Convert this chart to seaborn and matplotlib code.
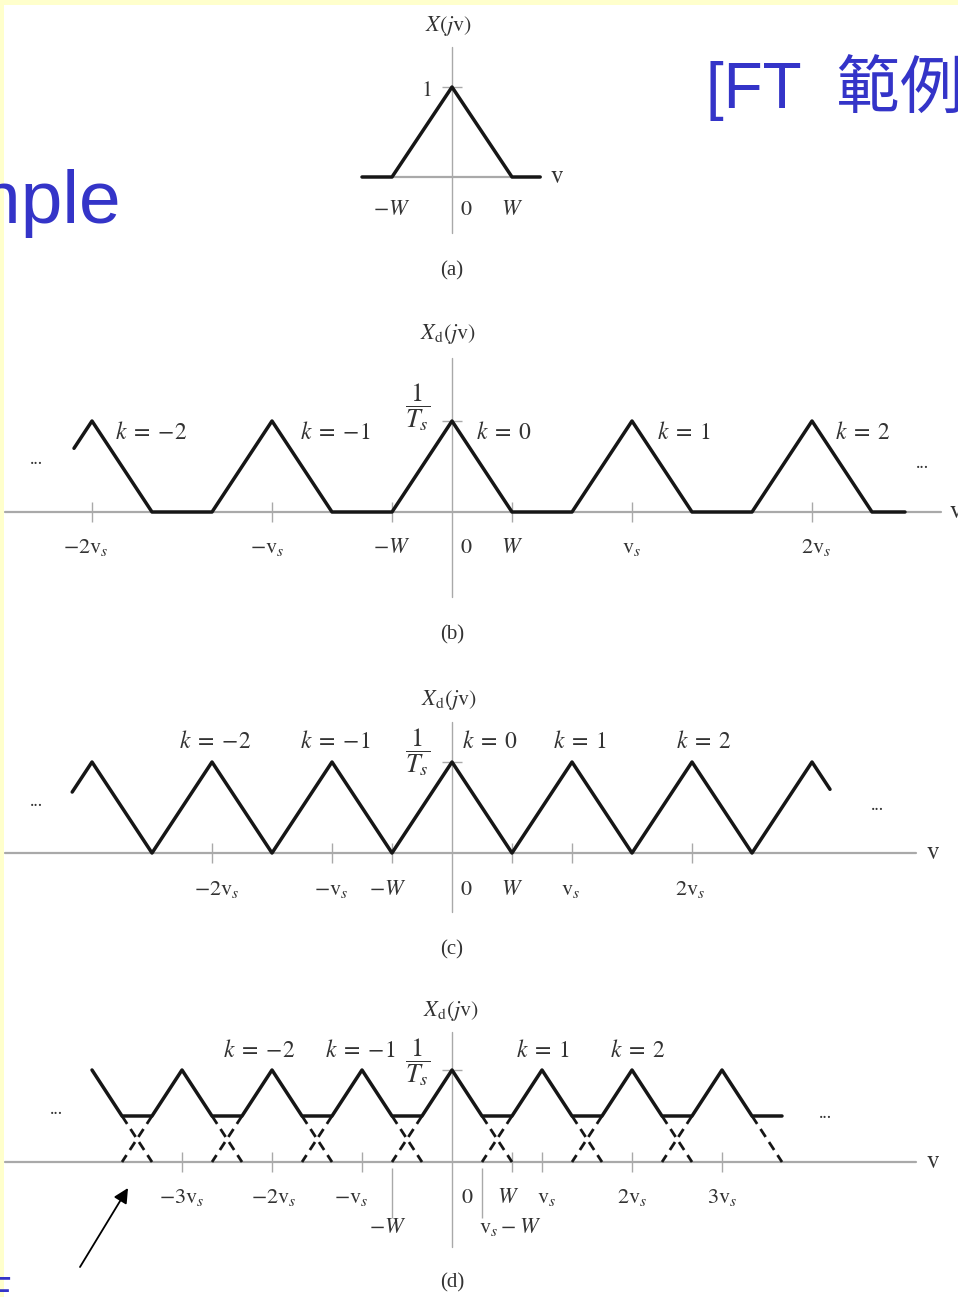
import numpy as np
import pandas as pd
import matplotlib
matplotlib.use("Agg")
import matplotlib.pyplot as plt
import seaborn as sns
from matplotlib.patches import Rectangle

sns.set_theme(style="white")
plt.rcParams["font.family"] = ["Liberation Serif", "DejaVu Serif"]
plt.rcParams["mathtext.fontset"] = "stix"

# ---------------------------------------------------------------------------
# Spectra: frequency in units of W, amplitude in units of the peak value
# ---------------------------------------------------------------------------
# (a) band-limited spectrum X(jv)
a_nu = [-1.5, -1.0, 0.0, 1.0, 1.47]
a_amp = [0, 0, 1, 0, 0]

# (b) sampled with vs = 3W  (replicas separated)
b_nu = [-6.3, -6, -5, -4, -3, -2, -1, 0, 1, 2, 3, 4, 5, 6, 7, 7.55]
b_amp = [0.7, 1, 0, 0, 1, 0, 0, 1, 0, 0, 1, 0, 0, 1, 0, 0]

# (c) sampled with vs = 2W  (replicas just touching)
c_nu = [-6.33, -6, -5, -4, -3, -2, -1, 0, 1, 2, 3, 4, 5, 6, 6.3]
c_amp = [0.67, 1, 0, 1, 0, 1, 0, 1, 0, 1, 0, 1, 0, 1, 0.7]

# (d) sampled with vs = 1.5W  (overlapping replicas sum to a flat 0.5)
d_nu = [-6, -5.5, -5, -4.5, -4, -3.5, -3, -2.5, -2, -1.5, -1, -0.5,
        0, 0.5, 1, 1.5, 2, 2.5, 3, 3.5, 4, 4.5, 5, 5.5]
d_amp = [1, .5, .5, 1, .5, .5, 1, .5, .5, 1, .5, .5,
         1, .5, .5, 1, .5, .5, 1, .5, .5, 1, .5, .5]

# (d) hidden tails of the individual replicas (dashed), one segment each
tail_from_nu = [-5.5, -5.0, -4.0, -3.5, -2.5, -2.0, -1.0, -0.5,
                0.5, 1.0, 2.0, 2.5, 3.5, 4.0, 5.0]
tail_to_nu = [-5.0, -5.5, -3.5, -4.0, -2.0, -2.5, -0.5, -1.0,
              1.0, 0.5, 2.5, 2.0, 4.0, 3.5, 5.5]
tail_from_amp = 0.5
tail_to_amp = 0.0

# Tick positions and their labels
a_ticks = [-1, 1]
a_tick_labels = [r"$-W$", r"$0$", r"$W$"]
a_label_nu = [-1.0, 0.23, 1.0]

b_ticks = [-6, -3, -1, 1, 3, 6]
b_tick_labels = [r"$-2\mathrm{v}_s$", r"$-\mathrm{v}_s$", r"$-W$", r"$0$",
                 r"$W$", r"$\mathrm{v}_s$", r"$2\mathrm{v}_s$"]
b_label_nu = [-6.1, -3.08, -1.0, 0.23, 1.0, 3.0, 6.07]

c_ticks = [-4, -2, -1, 1, 2, 4]
c_tick_labels = [r"$-2\mathrm{v}_s$", r"$-\mathrm{v}_s$", r"$-W$", r"$0$",
                 r"$W$", r"$\mathrm{v}_s$", r"$2\mathrm{v}_s$"]
c_label_nu = [-3.92, -2.02, -1.07, 0.23, 1.0, 1.98, 3.97]

d_ticks = [-4.5, -3, -1.5, 1, 1.5, 3, 4.5]
d_tick_labels = [r"$-3\mathrm{v}_s$", r"$-2\mathrm{v}_s$", r"$-\mathrm{v}_s$",
                 r"$0$", r"$W$", r"$\mathrm{v}_s$", r"$2\mathrm{v}_s$",
                 r"$3\mathrm{v}_s$"]
d_label_nu = [-4.5, -2.97, -1.68, 0.25, 0.93, 1.58, 3.0, 4.5]

b_k = [r"$k\;=\;{-}2$", r"$k\;=\;{-}1$", r"$k\;=\;0$", r"$k\;=\;1$", r"$k\;=\;2$"]
b_k_nu = [-5.02, -1.95, 0.87, 3.87, 6.85]
c_k = [r"$k\;=\;{-}2$", r"$k\;=\;{-}1$", r"$k\;=\;0$", r"$k\;=\;1$", r"$k\;=\;2$"]
c_k_nu = [-3.95, -1.95, 0.63, 2.13, 4.2]
d_k = [r"$k\;=\;{-}2$", r"$k\;=\;{-}1$", r"$k\;=\;1$", r"$k\;=\;2$"]
d_k_nu = [-3.22, -1.53, 1.52, 3.1]

# ---------------------------------------------------------------------------
FIG_W, FIG_H = 958, 1297
X0, UX = 452.0, 60.0            # pixel column of v = 0, pixels per W
CURVE = "#161616"
AXIS_GREY = "#a9a9a9"
TEXT = "#333333"
BLUE = "#3434c8"

fig = plt.figure(figsize=(FIG_W / 100, FIG_H / 100), dpi=100)
fig.patch.set_facecolor("white")

# slide frame
fig.patches.append(Rectangle((0, 1 - 5 / FIG_H), 1, 5 / FIG_H, transform=fig.transFigure,
                             facecolor="#ffffcc", edgecolor="none", zorder=0))
fig.patches.append(Rectangle((0, 0), 3.7 / FIG_W, 1, transform=fig.transFigure,
                             facecolor="#ffffcc", edgecolor="none", zorder=0))

# slide headings in blue
fig.text(706 / FIG_W, 1 - 108 / FIG_H, "[FT  範例]", color=BLUE, fontsize=46,
         family=["Liberation Sans", "Noto Sans CJK TC"], ha="left", va="baseline")
fig.text(122 / FIG_W, 1 - 223 / FIG_H, "Example", color=BLUE, fontsize=54,
         family=["Liberation Sans"], ha="right", va="baseline")
fig.text(12 / FIG_W, 1 - 1306 / FIG_H, "E", color=BLUE, fontsize=30,
         family=["Liberation Sans"], ha="right", va="baseline")


def fx(px):
    return (px - X0) / UX


def make_panel(top, bottom, base, scale):
    ax = fig.add_axes([0, 1 - bottom / FIG_H, 1, (bottom - top) / FIG_H])
    ax.set_xlim(-X0 / UX, (FIG_W - X0) / UX)
    ax.set_ylim((base - bottom) / scale, (base - top) / scale)
    ax.set_axis_off()
    ax.patch.set_alpha(0)
    return ax, (lambda py: (base - py) / scale), scale


def frame(ax, fy, scale, x_from, x_to, y_top, y_bottom, ticks, v_px, tick_px=10):
    ax.plot([fx(x_from), fx(x_to)], [0, 0], color=AXIS_GREY, lw=1.6, zorder=1)
    ax.plot([0, 0], [fy(y_bottom), fy(y_top)], color=AXIS_GREY, lw=1.0, zorder=1)
    h = tick_px / scale
    ax.vlines(ticks, -h, h, color=AXIS_GREY, lw=1.0, zorder=1)
    ax.hlines(1, -0.16, 0.16, color=AXIS_GREY, lw=1.0, zorder=1)
    ax.text(fx(v_px), 0, r"$\mathrm{v}$", ha="center", va="center",
            fontsize=18, color=TEXT)


def tick_text(ax, fy, labels, where, base_py, size=16):
    for lab, nu in zip(labels, where):
        ax.text(nu, fy(base_py), lab, ha="center", va="baseline",
                fontsize=size, color=TEXT)


def dots(ax, fy, px, py):
    ax.text(fx(px), fy(py), "...", ha="center", va="center", fontsize=13,
            color=TEXT)


def curve(ax, nu, amp):
    sns.lineplot(x=nu, y=amp, ax=ax, color=CURVE, lw=2.5, sort=False,
                 estimator=None, zorder=3)


def fraction(ax, fy, py):
    ax.text(fx(418), fy(py), r"$\dfrac{1}{T_s}$", ha="center", va="center",
            fontsize=19, color=TEXT)


# ---------------------------- (a) ------------------------------------------
ax, fy, sc = make_panel(0, 300, 177, 90)
frame(ax, fy, sc, 362, 540, 47, 233, a_ticks, 557, tick_px=0)
curve(ax, a_nu, a_amp)
ax.text(fx(449), fy(26), r"$X(j\mathrm{v})$", ha="center", va="center",
        fontsize=16, color=TEXT)
ax.text(fx(426), fy(91), r"$1$", ha="center", va="center", fontsize=16, color=TEXT)
tick_text(ax, fy, a_tick_labels, a_label_nu, 215)
ax.text(0, fy(271), "(a)", ha="center", va="center", fontsize=15, color=TEXT)

# ---------------------------- (b) ------------------------------------------
ax, fy, sc = make_panel(300, 650, 512, 91)
frame(ax, fy, sc, 5, 941, 358, 597, b_ticks, 956)
curve(ax, b_nu, b_amp)
ax.text(fx(448), fy(334), r"$X_{\mathrm{d}}(j\mathrm{v})$", ha="center",
        va="center", fontsize=16, color=TEXT)
fraction(ax, fy, 407)
tick_text(ax, fy, b_tick_labels, b_label_nu, 553)
for lab, nu in zip(b_k, b_k_nu):
    ax.text(nu, fy(439), lab, ha="center", va="baseline", fontsize=17, color=TEXT)
dots(ax, fy, 36, 460)
dots(ax, fy, 922, 463)
ax.text(0, fy(635), "(b)", ha="center", va="center", fontsize=15, color=TEXT)

# ---------------------------- (c) ------------------------------------------
ax, fy, sc = make_panel(650, 970, 853, 91)
frame(ax, fy, sc, 5, 916, 722, 912, c_ticks, 933)
curve(ax, c_nu, c_amp)
ax.text(fx(449), fy(700), r"$X_{\mathrm{d}}(j\mathrm{v})$", ha="center",
        va="center", fontsize=16, color=TEXT)
fraction(ax, fy, 752)
tick_text(ax, fy, c_tick_labels, c_label_nu, 895)
for lab, nu in zip(c_k, c_k_nu):
    ax.text(nu, fy(748), lab, ha="center", va="baseline", fontsize=17, color=TEXT)
dots(ax, fy, 36, 802)
dots(ax, fy, 877, 805)
ax.text(0, fy(950), "(c)", ha="center", va="center", fontsize=15, color=TEXT)

# ---------------------------- (d) ------------------------------------------
ax, fy, sc = make_panel(970, 1297, 1162, 92)
frame(ax, fy, sc, 5, 916, 1032, 1247, d_ticks, 933)
# leader lines down to the labels -W and vs - W
ax.vlines([-1.0, 0.5], fy(1218), fy(1168), color=AXIS_GREY, lw=1.0, zorder=1)
tails = pd.DataFrame({
    "nu": np.ravel(np.column_stack([tail_from_nu, tail_to_nu])),
    "amp": np.tile([tail_from_amp, tail_to_amp], len(tail_from_nu)),
    "seg": np.repeat(np.arange(len(tail_from_nu)), 2),
})
sns.lineplot(data=tails, x="nu", y="amp", units="seg", estimator=None, sort=False,
             color=CURVE, lw=2.0, linestyle=(0, (3.4, 2.2)), ax=ax, zorder=2)
curve(ax, d_nu, d_amp)
ax.text(fx(451), fy(1011), r"$X_{\mathrm{d}}(j\mathrm{v})$", ha="center",
        va="center", fontsize=16, color=TEXT)
fraction(ax, fy, 1062)
tick_text(ax, fy, d_tick_labels, d_label_nu, 1203)
tick_text(ax, fy, [r"$-W$", r"$\mathrm{v}_s - W$"], [-1.07, 0.97], 1233)
for lab, nu in zip(d_k, d_k_nu):
    ax.text(nu, fy(1057), lab, ha="center", va="baseline", fontsize=17, color=TEXT)
dots(ax, fy, 56, 1110)
dots(ax, fy, 825, 1113)
ax.text(0, fy(1283), "(d)", ha="center", va="center", fontsize=15, color=TEXT)
ax.annotate("", xy=(fx(128), fy(1188)), xytext=(fx(80), fy(1267)),
            arrowprops=dict(arrowstyle="-|>", color="black", lw=1.3,
                            mutation_scale=22, shrinkA=0, shrinkB=0),
            annotation_clip=False)

fig.savefig("out.png", dpi=100, facecolor=fig.get_facecolor())
